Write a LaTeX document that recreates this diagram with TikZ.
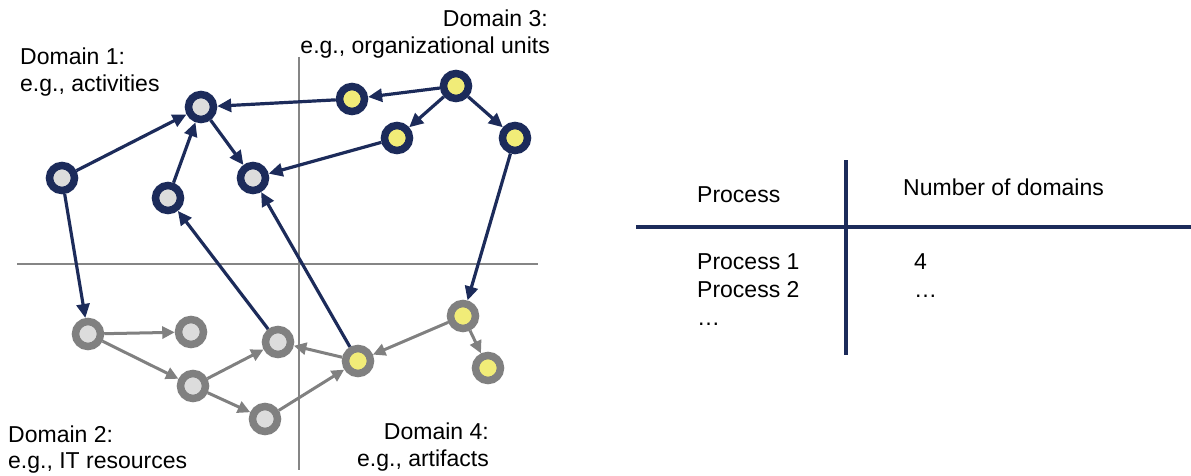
\documentclass[tikz,border=0pt]{standalone}
\usepackage{fontspec}
\setmainfont{Liberation Sans}
\usetikzlibrary{arrows.meta}
\definecolor{navy}{HTML}{1C2B5A}
\definecolor{ring}{HTML}{808080}
\definecolor{lgrey}{HTML}{DCDCDC}
\definecolor{yel}{HTML}{F1EC78}
\definecolor{axisc}{HTML}{858585}
\begin{document}
\begin{tikzpicture}[x=1pt,y=-1pt,
 nd/.style={circle,minimum size=25pt,inner sep=0pt,line width=7.5pt,outer sep=3.75pt},
 dA/.style={nd,draw=navy,fill=lgrey},
 dC/.style={nd,draw=navy,fill=yel},
 dB/.style={nd,draw=ring,fill=lgrey},
 dD/.style={nd,draw=ring,fill=yel},
 nv/.style={draw=navy,line width=3.2pt,-{Triangle[length=14pt,width=13pt]}},
 gy/.style={draw=ring,line width=3pt,-{Triangle[length=12.5pt,width=12pt]}},
 ax/.style={draw=axisc,line width=1.5pt},
 tbl/.style={draw=navy,line width=4pt},
 lbl/.style={font=\fontsize{23}{27}\selectfont,inner sep=0pt}
]
\useasboundingbox (0,0) rectangle (1191,476);
% axes
\coordinate (hl) at (17,264);
\coordinate (hr) at (538,264);
\coordinate (vt) at (299,57);
\coordinate (vb) at (299,470);
\draw[ax] (hl) -- (hr);
\draw[ax] (vt) -- (vb);
% nodes domain 1
\node[dA] (a1) at (201,107) {};
\node[dA] (a2) at (62,178) {};
\node[dA] (a3) at (168,198) {};
\node[dA] (a4) at (253,178) {};
% domain 3
\node[dC] (b1) at (352,99) {};
\node[dC] (b2) at (456,86) {};
\node[dC] (b3) at (397,138) {};
\node[dC] (b4) at (515,138) {};
% domain 2
\node[dB] (c1) at (88,334) {};
\node[dB] (c2) at (191,332) {};
\node[dB] (c3) at (193,386) {};
\node[dB] (c4) at (278,342) {};
\node[dB] (c5) at (265,419) {};
% domain 4
\node[dD] (d1) at (358,361) {};
\node[dD] (d2) at (463,316) {};
\node[dD] (d3) at (488,368) {};
% navy edges
\draw[nv] (b1) -- (a1);
\draw[nv] (a2) -- (a1);
\draw[nv] (a3) -- (a1);
\draw[nv] (a1) -- (a4);
\draw[nv] (b3) -- (a4);
\draw[nv] (b2) -- (b1);
\draw[nv] (b2) -- (b3);
\draw[nv] (b2) -- (b4);
\draw[nv] (b4) -- (d2);
\draw[nv] (a2) -- (c1);
\draw[nv] (c4) -- (a3);
\draw[nv] (d1) -- (a4);
% grey edges
\draw[gy] (c1) -- (c2);
\draw[gy] (c1) -- (c3);
\draw[gy] (c3) -- (c4);
\draw[gy] (c3) -- (c5);
\draw[gy] (c5) -- (d1);
\draw[gy] (d1) -- (c4);
\draw[gy] (d2) -- (d1);
\draw[gy] (d2) -- (d3);
% labels
\node[lbl,anchor=base west] (t1a) at (20,65) {Domain 1:};
\node[lbl,anchor=base west] (t1b) at (20,92) {e.g., activities};
\node[lbl,anchor=base east] (t3a) at (548,27) {Domain 3:};
\node[lbl,anchor=base east] (t3b) at (550,54) {e.g., organizational units};
\node[lbl,anchor=base west] (t2a) at (8,442) {Domain 2:};
\node[lbl,anchor=base west] (t2b) at (8,468) {e.g., IT resources};
\node[lbl,anchor=base east] (t4a) at (489,439) {Domain 4:};
\node[lbl,anchor=base east] (t4b) at (489,466) {e.g., artifacts};
% table
\coordinate (tl) at (636,227);
\coordinate (tr) at (1191,227);
\coordinate (tt) at (846,160);
\coordinate (tb) at (846,355);
\draw[tbl] (tl) -- (tr);
\draw[tbl] (tt) -- (tb);
\node[lbl,anchor=base west] (h1) at (697,202) {Process};
\node[lbl,anchor=base west] (h2) at (903,195) {Number of domains};
\node[lbl,anchor=base west] (p1) at (697,269) {Process 1};
\node[lbl,anchor=base west] (p2) at (697,297) {Process 2};
\node[lbl,anchor=base west] (p3) at (697,325) {…};
\node[lbl,anchor=base west] (n1) at (914,269) {4};
\node[lbl,anchor=base west] (n2) at (914,297) {…};
\end{tikzpicture}
\end{document}
